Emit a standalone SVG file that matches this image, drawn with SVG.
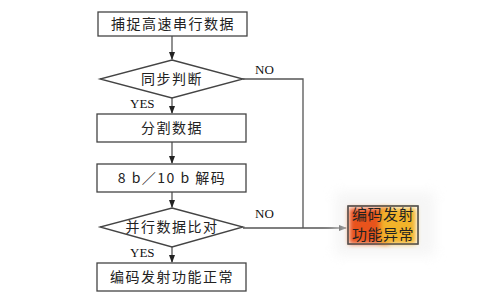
<svg xmlns="http://www.w3.org/2000/svg" width="500" height="303" viewBox="0 0 500 303">
<defs>
<style>
.n{fill:#fff;stroke:#444;stroke-width:1.3}
.c{fill:none;stroke:#555;stroke-width:1.3}
.t{font-family:"Noto Sans CJK SC","Liberation Serif",serif;font-size:14px;fill:#222;text-anchor:middle;letter-spacing:1.5px}
.l{font-family:"Liberation Serif",serif;font-size:13px;fill:#111}
</style>
<marker id="a" markerWidth="8" markerHeight="6" refX="7" refY="3" orient="auto" markerUnits="userSpaceOnUse">
<path d="M0,0 L8,3 L0,6 z" fill="#222"/>
</marker>
<filter id="blur" x="-30%" y="-30%" width="160%" height="160%"><feGaussianBlur stdDeviation="2.5"/></filter>
<filter id="blur2" x="-30%" y="-30%" width="160%" height="160%"><feGaussianBlur stdDeviation="6"/></filter>
</defs>
<rect width="500" height="303" fill="#fff"/>
<g id="connectors">
<line class="c" x1="172" y1="36" x2="172" y2="59" marker-end="url(#a)"/>
<line class="c" x1="172" y1="98" x2="172" y2="113" marker-end="url(#a)"/>
<line class="c" x1="172" y1="142" x2="172" y2="163" marker-end="url(#a)"/>
<line class="c" x1="172" y1="192" x2="172" y2="207" marker-end="url(#a)"/>
<line class="c" x1="172" y1="247" x2="172" y2="262" marker-end="url(#a)"/>
<polyline class="c" points="243,79 303,79 303,228"/>
<line class="c" x1="243" y1="228" x2="346" y2="228" marker-end="url(#a)"/>
<text class="l" x="255" y="74">NO</text>
<text class="l" x="255" y="218">NO</text>
<text class="l" x="130" y="108">YES</text>
<text class="l" x="130" y="257">YES</text>
</g>
<g id="n1"><rect class="n" x="98" y="12" width="149" height="24"/><text class="t" x="173" y="29">捕捉高速串行数据</text></g>
<g id="n2"><polygon class="n" points="172,60 243,79 172,98 100,79"/><text class="t" x="172" y="84">同步判断</text></g>
<g id="n3"><rect class="n" x="97" y="114" width="149" height="28"/><text class="t" x="172" y="133">分割数据</text></g>
<g id="n4"><rect class="n" x="97" y="164" width="149" height="28"/><text class="t" x="172" y="183">8 b／10 b 解码</text></g>
<g id="n5"><polygon class="n" points="172,208 243,227 172,247 100,227"/><text class="t" x="172" y="232">并行数据比对</text></g>
<g id="n6"><rect class="n" x="97" y="263" width="149" height="28"/><text class="t" x="172" y="282">编码发射功能正常</text></g>
<g id="n7">
<rect x="335" y="192" width="100" height="64" fill="#f0f0f0" filter="url(#blur2)" opacity="0.6"/>
<rect x="348" y="206" width="70" height="38" fill="#fff" stroke="#555" stroke-width="1.3"/>
<rect x="349" y="208" width="40" height="36" fill="#e8531c" filter="url(#blur)"/>
<rect x="380" y="208" width="36" height="36" fill="#f2b32a" filter="url(#blur)"/>
<rect x="348" y="206" width="70" height="38" fill="none" stroke="#555" stroke-width="1.3"/>
<text class="t" x="383" y="220" style="font-size:15px;letter-spacing:0.5px">编码发射</text>
<text class="t" x="383" y="240" style="font-size:15px;letter-spacing:0.5px">功能异常</text>
</g>
</svg>
